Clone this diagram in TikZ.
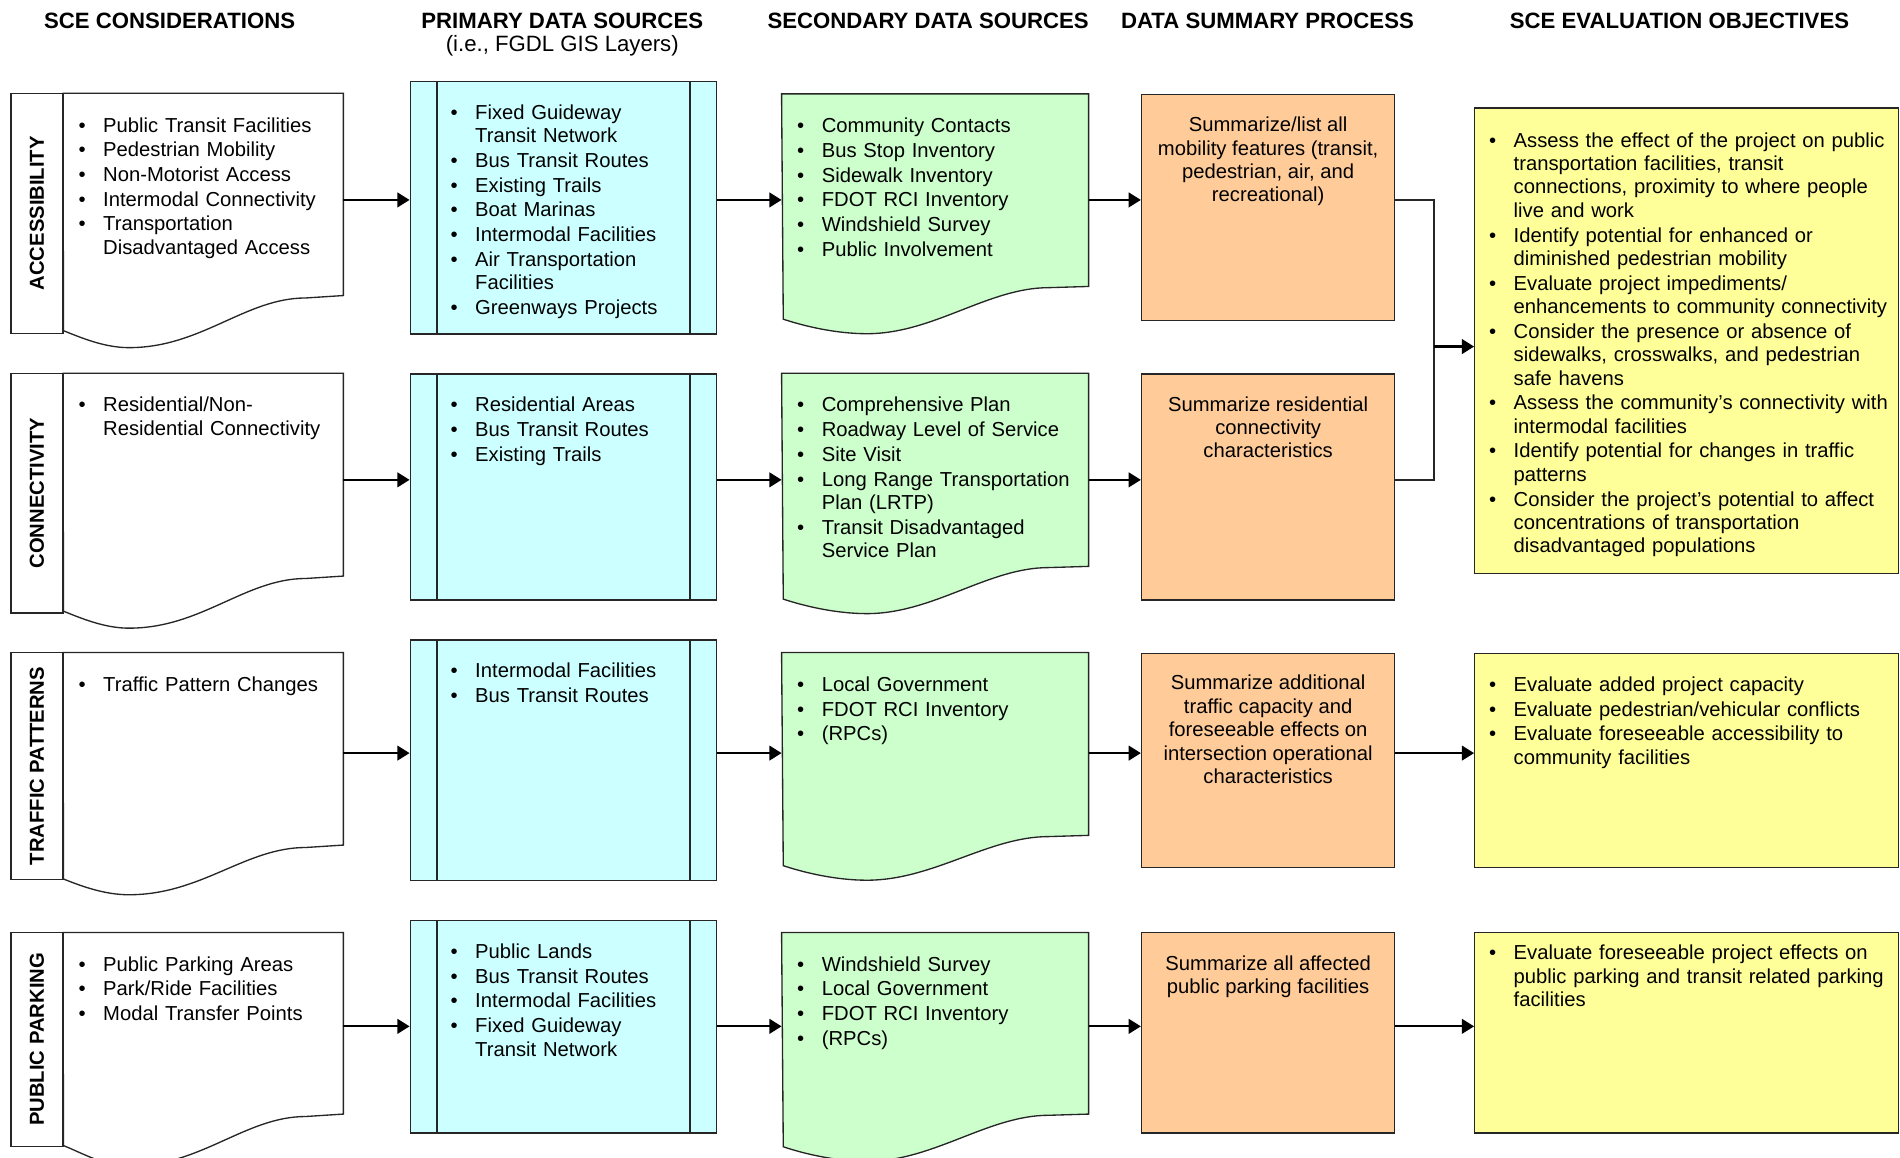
\documentclass[tikz,border=0pt]{standalone}
\usepackage{fontspec}
\setmainfont{Liberation Sans}
\usepackage{enumitem}
\setlist[itemize]{label=\textbullet, leftmargin=20pt, labelsep=14.5pt,
  itemsep=1.1pt, topsep=0pt, partopsep=0pt, parsep=0pt}
\usepackage{tikz}
\usetikzlibrary{
  arrows.meta,
  calc
}
\definecolor{primcyan}{HTML}{CCFFFF}
\definecolor{secgreen}{HTML}{CCFFCC}
\definecolor{sumorange}{HTML}{FFCC99}
\definecolor{objyellow}{HTML}{FFFF99}
\tikzset{
  every node/.style={font=\fontsize{16.7}{19.3}\selectfont},
  heading/.style={font=\fontsize{18.3}{21}\selectfont, inner sep=0},
  outline/.style={draw=black!85, line width=1.1pt},
  strip/.style={outline, fill=white, inner sep=0, rotate=90,
    font=\fontsize{16.7}{19.3}\selectfont\bfseries},
  docarea/.style={anchor=north west, inner sep=0, minimum width=231},
  secarea/.style={anchor=north west, inner sep=0, minimum width=253},
  primbox/.style={outline, fill=primcyan, anchor=north west, inner sep=0,
    minimum width=253,
    path picture={
      \draw[draw=black!85, line width=1.1pt]
      ([xshift=22pt]path picture bounding box.north west) --
      ([xshift=22pt]path picture bounding box.south west)
      ([xshift=-22pt]path picture bounding box.north east) --
      ([xshift=-22pt]path picture bounding box.south east);
    }
  },
  sumbox/.style={outline, fill=sumorange, anchor=north west, inner sep=0,
    minimum width=209},
  objbox/.style={outline, fill=objyellow, anchor=north west, inner sep=0,
    minimum width=349.5},
  items/.style={anchor=north west, inner sep=0, text width=#1, align=left},
  sumtext/.style={anchor=north, inner sep=0, align=center},
  flow/.style={line width=1.8pt, -{Triangle[length=10pt,width=12pt]}},
  link/.style={line width=1.2pt, draw=black!85}
}

\begin{document}
\begin{tikzpicture}[x=1pt, y=-1pt]
\useasboundingbox (0,0) rectangle (1568,955);

\node[heading] (hSce) at (140,17) {\bfseries SCE CONSIDERATIONS};
\node[heading] (hPri) at (464,17) {\bfseries PRIMARY DATA SOURCES};
\node[heading] (hPriSub) at (464,38) {(i.e., FGDL GIS Layers)};
\node[heading] (hSec) at (766,17) {\bfseries SECONDARY DATA SOURCES};
\node[heading] (hSum) at (1046,17) {\bfseries DATA SUMMARY PROCESS};
\node[heading] (hObj) at (1386,17) {\bfseries SCE EVALUATION OBJECTIVES};

\coordinate (r1) at (0,165);
\coordinate (r2) at (0,396);
\coordinate (r3) at (0,621.5);
\coordinate (r4) at (0,847);
\coordinate (j1) at (1183.5,286);

% accessibility
\node[docarea, minimum height=166.5] (accDoc) at (52,77) {};
\draw[outline, fill=white] (accDoc.north west) -- (accDoc.north east) -- (accDoc.south east)
  -- ++(-31,2) .. controls +(-50,0) and +(60,0) .. ++(-146,41)
  .. controls +(-20,0) and +(15,6) .. ++(-54,-14) -- cycle;
\node[strip, minimum width=198, minimum height=43] (accLab) at (30.5,176) {ACCESSIBILITY};
\node[items=215] (accDocTxt) at ([shift={(13,12.5)}]accDoc.north west) {\begin{itemize}
  \item Public Transit Facilities
  \item Pedestrian Mobility
  \item Non-Motorist Access
  \item Intermodal Connectivity
  \item Transportation\\Disadvantaged Access
\end{itemize}};
\node[primbox, minimum height=208.5] (accPri) at (338,66.5) {};
\node[items=196] (accPriTxt) at ([shift={(34,12.5)}]accPri.north west) {\begin{itemize}
  \item Fixed Guideway\\Transit Network
  \item Bus Transit Routes
  \item Existing Trails
  \item Boat Marinas
  \item Intermodal Facilities
  \item Air Transportation\\Facilities
  \item Greenways Projects
\end{itemize}};
\node[secarea, minimum height=158.5] (accSec) at (645,77.5) {};
\draw[outline, fill=secgreen] (accSec.north west) -- (accSec.north east) -- (accSec.south east)
  -- ++(-33,1) .. controls +(-50,0) and +(55,0) .. ++(-150,38)
  .. controls +(-25,0) and +(18,6) .. ++(-69,-12) -- cycle;
\node[items=236] (accSecTxt) at ([shift={(13,12.5)}]accSec.north west) {\begin{itemize}
  \item Community Contacts
  \item Bus Stop Inventory
  \item Sidewalk Inventory
  \item FDOT RCI Inventory
  \item Windshield Survey
  \item Public Involvement
\end{itemize}};
\node[sumbox, minimum height=186.5] (accSum) at (941.5,77.5) {};
\node[sumtext] (accSumTxt) at ([shift={(0,19)}]accSum.north)
  {Summarize/list all\\mobility features (transit,\\pedestrian, air, and\\recreational)};
\node[objbox, minimum height=384.5] (accObj) at (1216.5,88.5) {};
\node[items=345] (accObjTxt) at ([shift={(12.5,13.5)}]accObj.north west) {\begin{itemize}
  \item Assess the effect of the project on public\\transportation facilities, transit\\connections, proximity to where people\\live and work
  \item Identify potential for enhanced or\\diminished pedestrian mobility
  \item Evaluate project impediments/\\enhancements to community connectivity
  \item Consider the presence or absence of\\sidewalks, crosswalks, and pedestrian\\safe havens
  \item Assess the community’s connectivity with\\intermodal facilities
  \item Identify potential for changes in traffic\\patterns
  \item Consider the project’s potential to affect\\concentrations of transportation\\disadvantaged populations
\end{itemize}};

% connectivity
\node[docarea, minimum height=167] (conDoc) at (52,308) {};
\draw[outline, fill=white] (conDoc.north west) -- (conDoc.north east) -- (conDoc.south east)
  -- ++(-31,2) .. controls +(-50,0) and +(60,0) .. ++(-146,41)
  .. controls +(-20,0) and +(15,6) .. ++(-54,-14) -- cycle;
\node[strip, minimum width=198, minimum height=43] (conLab) at (30.5,407) {CONNECTIVITY};
\node[items=215] (conDocTxt) at ([shift={(13,12.5)}]conDoc.north west) {\begin{itemize}
  \item Residential/Non-\\Residential Connectivity
\end{itemize}};
\node[primbox, minimum height=186.5] (conPri) at (338,308) {};
\node[items=196] (conPriTxt) at ([shift={(34,12.5)}]conPri.north west) {\begin{itemize}
  \item Residential Areas
  \item Bus Transit Routes
  \item Existing Trails
\end{itemize}};
\node[secarea, minimum height=159] (conSec) at (645,308) {};
\draw[outline, fill=secgreen] (conSec.north west) -- (conSec.north east) -- (conSec.south east)
  -- ++(-33,1) .. controls +(-50,0) and +(55,0) .. ++(-150,38)
  .. controls +(-25,0) and +(18,6) .. ++(-69,-12) -- cycle;
\node[items=236] (conSecTxt) at ([shift={(13,12.5)}]conSec.north west) {\begin{itemize}
  \item Comprehensive Plan
  \item Roadway Level of Service
  \item Site Visit
  \item Long Range Transportation\\Plan (LRTP)
  \item Transit Disadvantaged\\Service Plan
\end{itemize}};
\node[sumbox, minimum height=186.5] (conSum) at (941.5,308) {};
\node[sumtext] (conSumTxt) at ([shift={(0,19)}]conSum.north)
  {Summarize residential\\connectivity\\characteristics};

% traffic patterns
\node[docarea, minimum height=158.5] (traDoc) at (52,538.5) {};
\draw[outline, fill=white] (traDoc.north west) -- (traDoc.north east) -- (traDoc.south east)
  -- ++(-31,2) .. controls +(-50,0) and +(60,0) .. ++(-146,39)
  .. controls +(-20,0) and +(15,6) .. ++(-54,-13) -- cycle;
\node[strip, minimum width=187.5, minimum height=43] (traLab) at (30.5,632.25) {TRAFFIC PATTERNS};
\node[items=215] (traDocTxt) at ([shift={(13,12.5)}]traDoc.north west) {\begin{itemize}
  \item Traffic Pattern Changes
\end{itemize}};
\node[primbox, minimum height=198.5] (traPri) at (338,527.5) {};
\node[items=196] (traPriTxt) at ([shift={(34,12.5)}]traPri.north west) {\begin{itemize}
  \item Intermodal Facilities
  \item Bus Transit Routes
\end{itemize}};
\node[secarea, minimum height=150.5] (traSec) at (645,538.5) {};
\draw[outline, fill=secgreen] (traSec.north west) -- (traSec.north east) -- (traSec.south east)
  -- ++(-33,1) .. controls +(-50,0) and +(55,0) .. ++(-150,36)
  .. controls +(-25,0) and +(18,6) .. ++(-69,-12) -- cycle;
\node[items=236] (traSecTxt) at ([shift={(13,12.5)}]traSec.north west) {\begin{itemize}
  \item Local Government
  \item FDOT RCI Inventory
  \item (RPCs)
\end{itemize}};
\node[sumbox, minimum height=177] (traSum) at (941.5,538.5) {};
\node[sumtext] (traSumTxt) at ([shift={(0,18.5)}]traSum.north)
  {Summarize additional\\traffic capacity and\\foreseeable effects on\\intersection operational\\characteristics};
\node[objbox, minimum height=177] (traObj) at (1216.5,538.5) {};
\node[items=345] (traObjTxt) at ([shift={(12.5,12.5)}]traObj.north west) {\begin{itemize}
  \item Evaluate added project capacity
  \item Evaluate pedestrian/vehicular conflicts
  \item Evaluate foreseeable accessibility to\\community facilities
\end{itemize}};

% public parking
\node[docarea, minimum height=149.5] (parDoc) at (52,769.5) {};
\draw[outline, fill=white] (parDoc.north west) -- (parDoc.north east) -- (parDoc.south east)
  -- ++(-31,2) .. controls +(-50,0) and +(60,0) .. ++(-146,41)
  .. controls +(-20,0) and +(15,6) .. ++(-54,-17) -- cycle;
\node[strip, minimum width=176.5, minimum height=43] (parLab) at (30.5,857.75) {PUBLIC PARKING};
\node[items=215] (parDocTxt) at ([shift={(13,12.5)}]parDoc.north west) {\begin{itemize}
  \item Public Parking Areas
  \item Park/Ride Facilities
  \item Modal Transfer Points
\end{itemize}};
\node[primbox, minimum height=175.5] (parPri) at (338,759) {};
\node[items=196] (parPriTxt) at ([shift={(34,12.5)}]parPri.north west) {\begin{itemize}
  \item Public Lands
  \item Bus Transit Routes
  \item Intermodal Facilities
  \item Fixed Guideway\\Transit Network
\end{itemize}};
\node[secarea, minimum height=149.5] (parSec) at (645,769.5) {};
\draw[outline, fill=secgreen] (parSec.north west) -- (parSec.north east) -- (parSec.south east)
  -- ++(-33,1) .. controls +(-50,0) and +(55,0) .. ++(-150,38)
  .. controls +(-25,0) and +(18,6) .. ++(-69,-12) -- cycle;
\node[items=236] (parSecTxt) at ([shift={(13,12.5)}]parSec.north west) {\begin{itemize}
  \item Windshield Survey
  \item Local Government
  \item FDOT RCI Inventory
  \item (RPCs)
\end{itemize}};
\node[sumbox, minimum height=165.5] (parSum) at (941.5,769) {};
\node[sumtext] (parSumTxt) at ([shift={(0,19.5)}]parSum.north)
  {Summarize all affected\\public parking facilities};
\node[objbox, minimum height=165.5] (parObj) at (1216.5,769) {};
\node[items=345] (parObjTxt) at ([shift={(12.5,3.5)}]parObj.north west) {\begin{itemize}
  \item Evaluate foreseeable project effects on\\public parking and transit related parking\\facilities
\end{itemize}};

% connectors
\draw[flow] (accDoc.east |- r1) -- (accPri.west |- r1);
\draw[flow] (accPri.east |- r1) -- (accSec.west |- r1);
\draw[flow] (accSec.east |- r1) -- (accSum.west |- r1);
\draw[flow] (conDoc.east |- r2) -- (conPri.west |- r2);
\draw[flow] (conPri.east |- r2) -- (conSec.west |- r2);
\draw[flow] (conSec.east |- r2) -- (conSum.west |- r2);
\draw[link] (accSum.east |- r1) -| (j1);
\draw[link] (conSum.east |- r2) -| (j1);
\draw[flow] (j1) -- (accObj.west |- j1);
\draw[flow] (traDoc.east |- r3) -- (traPri.west |- r3);
\draw[flow] (traPri.east |- r3) -- (traSec.west |- r3);
\draw[flow] (traSec.east |- r3) -- (traSum.west |- r3);
\draw[flow] (traSum.east |- r3) -- (traObj.west |- r3);
\draw[flow] (parDoc.east |- r4) -- (parPri.west |- r4);
\draw[flow] (parPri.east |- r4) -- (parSec.west |- r4);
\draw[flow] (parSec.east |- r4) -- (parSum.west |- r4);
\draw[flow] (parSum.east |- r4) -- (parObj.west |- r4);
\end{tikzpicture}
\end{document}
